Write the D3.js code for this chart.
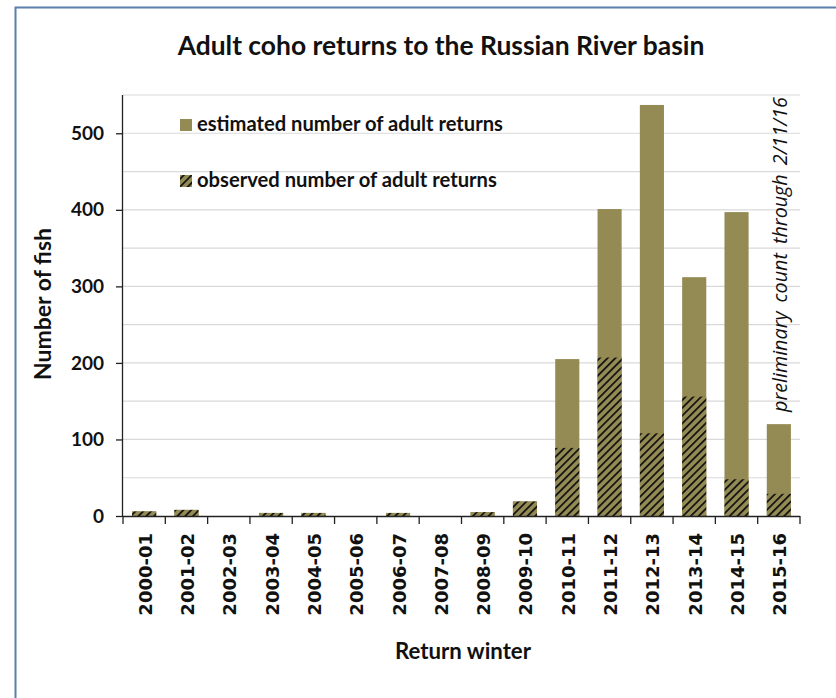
<!DOCTYPE html>
<html><head><meta charset="utf-8">
<script src="https://cdn.jsdelivr.net/npm/d3@7"></script>
<style>
html,body{margin:0;padding:0;background:#fff;}
svg{display:block;}
</style></head>
<body>
<svg id="chart" width="836" height="698"></svg>
<script>
const categories = ["2000-01","2001-02","2002-03","2003-04","2004-05","2005-06","2006-07","2007-08","2008-09","2009-10","2010-11","2011-12","2012-13","2013-14","2014-15","2015-16"];
const estimated = [6,8,0,4,4,0,4,0,5,19,205,401,537,312,397,120];
const observed  = [6,8,0,4,4,0,4,0,5,19,89,207,108,156,48,29];
const yTicks = [0,100,200,300,400,500];
const gridValues = [50,100,150,200,250,300,350,400,450,500,550];
const title = "Adult coho returns to the Russian River basin";
const legendLabels = ["estimated number of adult returns","observed number of adult returns"];
const yTitle = "Number of fish";
const xTitle = "Return winter";
const note = "preliminary count through 2/11/16";

const svg = d3.select("#chart");
const L = 123, R = 800, T = 95, B = 516;
const olive = "#948a54";

const defs = svg.append("defs");
const pat = defs.append("pattern").attr("id","hatch").attr("patternUnits","userSpaceOnUse")
  .attr("width",5.5).attr("height",5.5).attr("patternTransform","rotate(45)");
pat.append("rect").attr("width",5.5).attr("height",5.5).attr("fill",olive);
pat.append("line").attr("x1",0).attr("y1",0).attr("x2",0).attr("y2",5.5)
  .attr("stroke","#0d0d0d").attr("stroke-width",3.4);

function fit(sel, w){
  const n = sel.node();
  const fs = parseFloat(sel.attr("font-size"));
  const len = n.getComputedTextLength();
  sel.attr("font-size", (fs*w/len).toFixed(2));
}

// frame
svg.append("rect").attr("x",15.5).attr("y",7.5).attr("width",840).attr("height",720)
  .attr("fill","none").attr("stroke","#5b7fae").attr("stroke-width",2);

const x = d3.scaleBand().domain(categories).range([L,R]).paddingInner(0.43).paddingOuter(0.215);
const xb = d3.scaleBand().domain(categories).range([L,R]);
const y = d3.scaleLinear().domain([0,550]).range([B,T]);

// gridlines
svg.append("g").selectAll("line").data(gridValues).join("line")
  .attr("x1",L).attr("x2",R).attr("y1",d=>y(d)).attr("y2",d=>y(d))
  .attr("stroke","#d9d9d9").attr("stroke-width",1.2);

// bars
const bars = svg.append("g");
bars.selectAll("rect.est").data(categories).join("rect").attr("class","est")
  .attr("x",d=>x(d)).attr("width",x.bandwidth())
  .attr("y",(d,i)=>y(estimated[i])).attr("height",(d,i)=>y(0)-y(estimated[i]))
  .attr("fill",olive);
bars.selectAll("rect.obs").data(categories).join("rect").attr("class","obs")
  .attr("x",d=>x(d)).attr("width",x.bandwidth())
  .attr("y",(d,i)=>y(observed[i])).attr("height",(d,i)=>y(0)-y(observed[i]))
  .attr("fill","url(#hatch)");

// y axis
const yAxis = svg.append("g").attr("transform",`translate(${L},0)`)
  .call(d3.axisLeft(y).tickValues(yTicks).tickSize(7).tickPadding(12));
yAxis.select(".domain").attr("stroke","#222").attr("stroke-width",1.3).attr("d",`M-0.5,${T}V${B}`);
yAxis.selectAll(".tick line").attr("stroke","#222").attr("stroke-width",1.3);
yAxis.selectAll(".tick text").attr("font-family","Lato").attr("font-weight","bold")
  .attr("font-size",19).attr("fill","#111");

// x axis
const xAxis = svg.append("g").attr("transform",`translate(0,${B})`)
  .call(d3.axisBottom(xb).tickSize(0).tickFormat(d=>d));
xAxis.select(".domain").attr("stroke","#222").attr("stroke-width",1.3).attr("d",`M${L},0.5H${R}`);
svg.append("g").selectAll("line").data(categories.concat(["end"])).join("line")
  .attr("x1",(d,i)=>i<categories.length?xb(d):R).attr("x2",(d,i)=>i<categories.length?xb(d):R)
  .attr("y1",B).attr("y2",B+8).attr("stroke","#222").attr("stroke-width",1.3);
xAxis.selectAll(".tick text")
  .attr("font-family","DejaVu Sans").attr("font-weight","bold").attr("font-size",18)
  .attr("fill","#111")
  .attr("text-anchor","end")
  .attr("transform","translate(1,17) rotate(-90)")
  .attr("x",0).attr("y",0).attr("dy","0.36em");

// title
const t = svg.append("text").attr("x",441).attr("y",55).attr("text-anchor","middle")
  .attr("font-family","Lato").attr("font-weight","bold").attr("font-size",24)
  .attr("fill","#111").text(title);
fit(t,527);

// legend
const legY = [125,181];
legendLabels.forEach((lab,i)=>{
  svg.append("rect").attr("x",180).attr("y",legY[i]-6).attr("width",12).attr("height",12)
    .attr("fill", i===0?olive:"url(#hatch)");
  const tx = svg.append("text").attr("x",197).attr("y",legY[i]+6)
    .attr("font-family","Lato").attr("font-weight","bold").attr("font-size",18)
    .attr("fill","#111").text(lab);
  fit(tx, i===0?306:300);
});

// axis titles
const yt = svg.append("text").attr("transform","translate(51,304) rotate(-90)")
  .attr("text-anchor","middle").attr("font-family","Lato").attr("font-weight","bold")
  .attr("font-size",18).attr("fill","#111").text(yTitle);
fit(yt,152);
const xt = svg.append("text").attr("x",463).attr("y",659).attr("text-anchor","middle")
  .attr("font-family","Lato").attr("font-weight","bold").attr("font-size",18)
  .attr("fill","#111").text(xTitle);
fit(xt,136);

// note
const nt = svg.append("text").attr("transform","translate(787,412) rotate(-90)")
  .attr("text-anchor","start").attr("font-family","Open Sans").attr("font-style","italic")
  .attr("font-size",17).attr("fill","#111").attr("word-spacing",4).text(note);
fit(nt,317);
</script>
</body></html>
